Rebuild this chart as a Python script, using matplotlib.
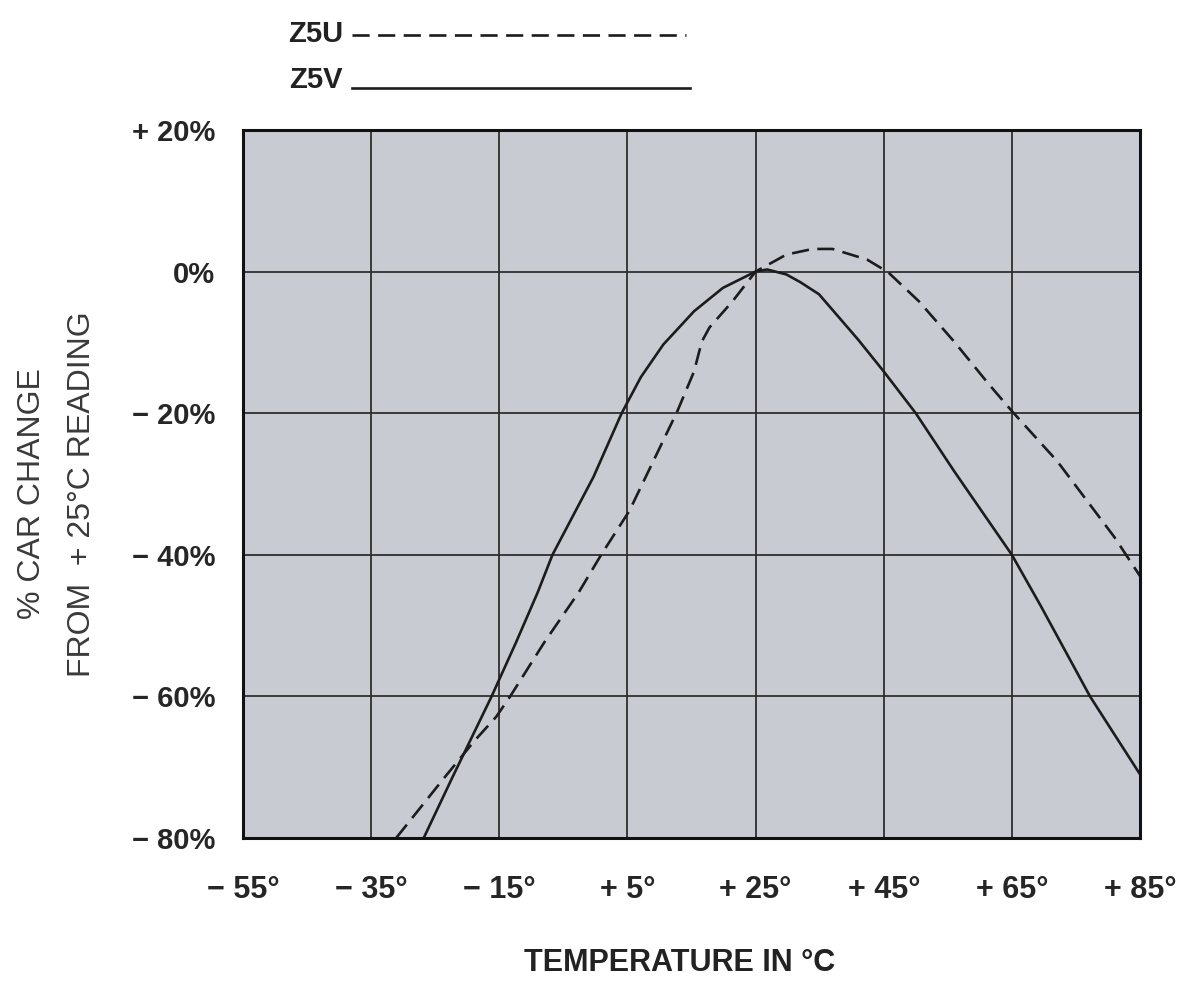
import matplotlib
matplotlib.use("Agg")
import matplotlib.pyplot as plt

plt.rcParams['font.family'] = ['Liberation Sans', 'DejaVu Sans']

# Data (temperature in deg C, % capacitance change)
z5v_temp = [-26.8, -22.3, -16.2, -12.4, -9.0, -6.7, -0.3, 4.1, 7.1, 10.6,
            15.4, 19.9, 25.0, 26.8, 29.8, 32.0, 34.9, 37.0, 41.0, 45.0,
            50.0, 56.0, 65.0, 69.5, 77.2, 85.0]
z5v_change = [-80.0, -71.4, -60.0, -52.4, -45.3, -40.0, -29.0, -20.0, -14.9, -10.3,
              -5.6, -2.3, 0.0, 0.3, -0.4, -1.5, -3.2, -5.4, -9.6, -14.1,
              -20.0, -28.2, -40.0, -47.2, -60.0, -71.0]

z5u_temp = [-31.1, -23.5, -18.9, -15.5, -13.3, -8.0, -2.6, 0.9, 5.3, 10.3,
            12.8, 15.4, 16.6, 17.8, 21.4, 25.0, 29.8, 33.9, 37.0, 42.4,
            45.7, 50.5, 56.0, 61.4, 65.0, 72.1, 81.0, 85.0]
z5u_change = [-80.0, -71.4, -66.3, -62.9, -60.0, -52.4, -45.3, -40.0, -33.8, -24.4,
              -19.7, -14.1, -9.9, -7.9, -4.2, 0.0, 2.4, 3.2, 3.2, 1.7,
              -0.1, -4.2, -9.9, -15.9, -19.7, -26.8, -37.5, -43.0]

x_ticks = [-55, -35, -15, 5, 25, 45, 65, 85]
x_labels = ['\u2212 55\u00b0', '\u2212 35\u00b0', '\u2212 15\u00b0', '+ 5\u00b0',
            '+ 25\u00b0', '+ 45\u00b0', '+ 65\u00b0', '+ 85\u00b0']
y_ticks = [20, 0, -20, -40, -60, -80]
y_labels = ['+ 20%', '0%', '\u2212 20%', '\u2212 40%', '\u2212 60%', '\u2212 80%']

W, H = 1183, 982
fig = plt.figure(figsize=(W / 100, H / 100), dpi=100)
fig.patch.set_facecolor('white')
ax = fig.add_axes([243 / W, 1 - 838 / H, (1140 - 243) / W, (838 - 130) / H])
ax.set_facecolor('#c9cbd3')

dash = (0, (6.5, 3.2))
line_kw = dict(color='#1c1c1c', linewidth=1.9)
ax.plot(z5u_temp, z5u_change, linestyle=dash, **line_kw)
ax.plot(z5v_temp, z5v_change, linestyle='-', **line_kw)

ax.set_xlim(-55, 85)
ax.set_ylim(-80, 20)
ax.set_xticks(x_ticks)
ax.set_xticklabels(x_labels, fontsize=22, fontweight='bold', color='#262626')
ax.set_yticks(y_ticks)
ax.set_yticklabels(y_labels, fontsize=21, fontweight='bold', color='#262626')
ax.tick_params(length=0)
ax.tick_params(axis='y', pad=20)
ax.tick_params(axis='x', pad=27)
ax.grid(True, color='#2e2e2e', linewidth=1.3)
ax.set_axisbelow(True)
for s in ax.spines.values():
    s.set_linewidth(2.2)
    s.set_color('#111111')

# two-line y label
fig.text(32 / W, 1 - 494 / H, '% CAR CHANGE', rotation=90, ha='center', va='center',
         fontsize=23, color='#3a3a3a')
fig.text(82 / W, 1 - 494 / H, 'FROM  + 25\u00b0C READING', rotation=90, ha='center',
         va='center', fontsize=23, color='#3a3a3a')

fig.text(680 / W, 1 - 963 / H, 'TEMPERATURE IN \u00b0C', ha='center', va='center',
         fontsize=22, fontweight='bold', color='#222222')

# legend drawn as figure lines at the top
fig.text(343 / W, 1 - 34 / H, 'Z5U', ha='right', va='center', fontsize=21,
         fontweight='bold', color='#222222')
fig.text(343 / W, 1 - 80 / H, 'Z5V', ha='right', va='center', fontsize=21,
         fontweight='bold', color='#222222')
fig.add_artist(plt.Line2D([352 / W, 686 / W], [1 - 35 / H, 1 - 35 / H],
                          linestyle=dash, **line_kw))
fig.add_artist(plt.Line2D([352 / W, 690 / W], [1 - 88 / H, 1 - 88 / H],
                          linestyle='-', **line_kw))

fig.savefig('out.png', dpi=100)
